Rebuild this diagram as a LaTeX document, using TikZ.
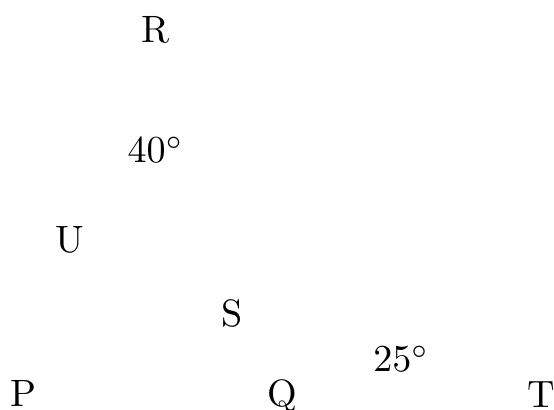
\documentclass[tikz,border=0pt]{standalone}
\usepackage{amsmath}
\usepackage{tikz}

\begin{document}
\begin{tikzpicture}[every node/.style = {anchor=base, inner sep=0pt}]
  \useasboundingbox (0,0) rectangle (5.11,3.78);
  % points
  \node (R) at (1.43,3.385) {R};
  \node (U) at (0.647,1.448) {U};
  \node (S) at (2.14,0.766) {S};
  \node (P) at (0.22,0.03) {P};
  \node (Q) at (2.60,0.035) {Q};
  \node (T) at (4.99,0.02) {T};
  % angles
  \node (angR) at (1.434,2.278) {$40^\circ$};
  \node (angQ) at (3.70,0.35) {$25^\circ$};
\end{tikzpicture}
\end{document}
